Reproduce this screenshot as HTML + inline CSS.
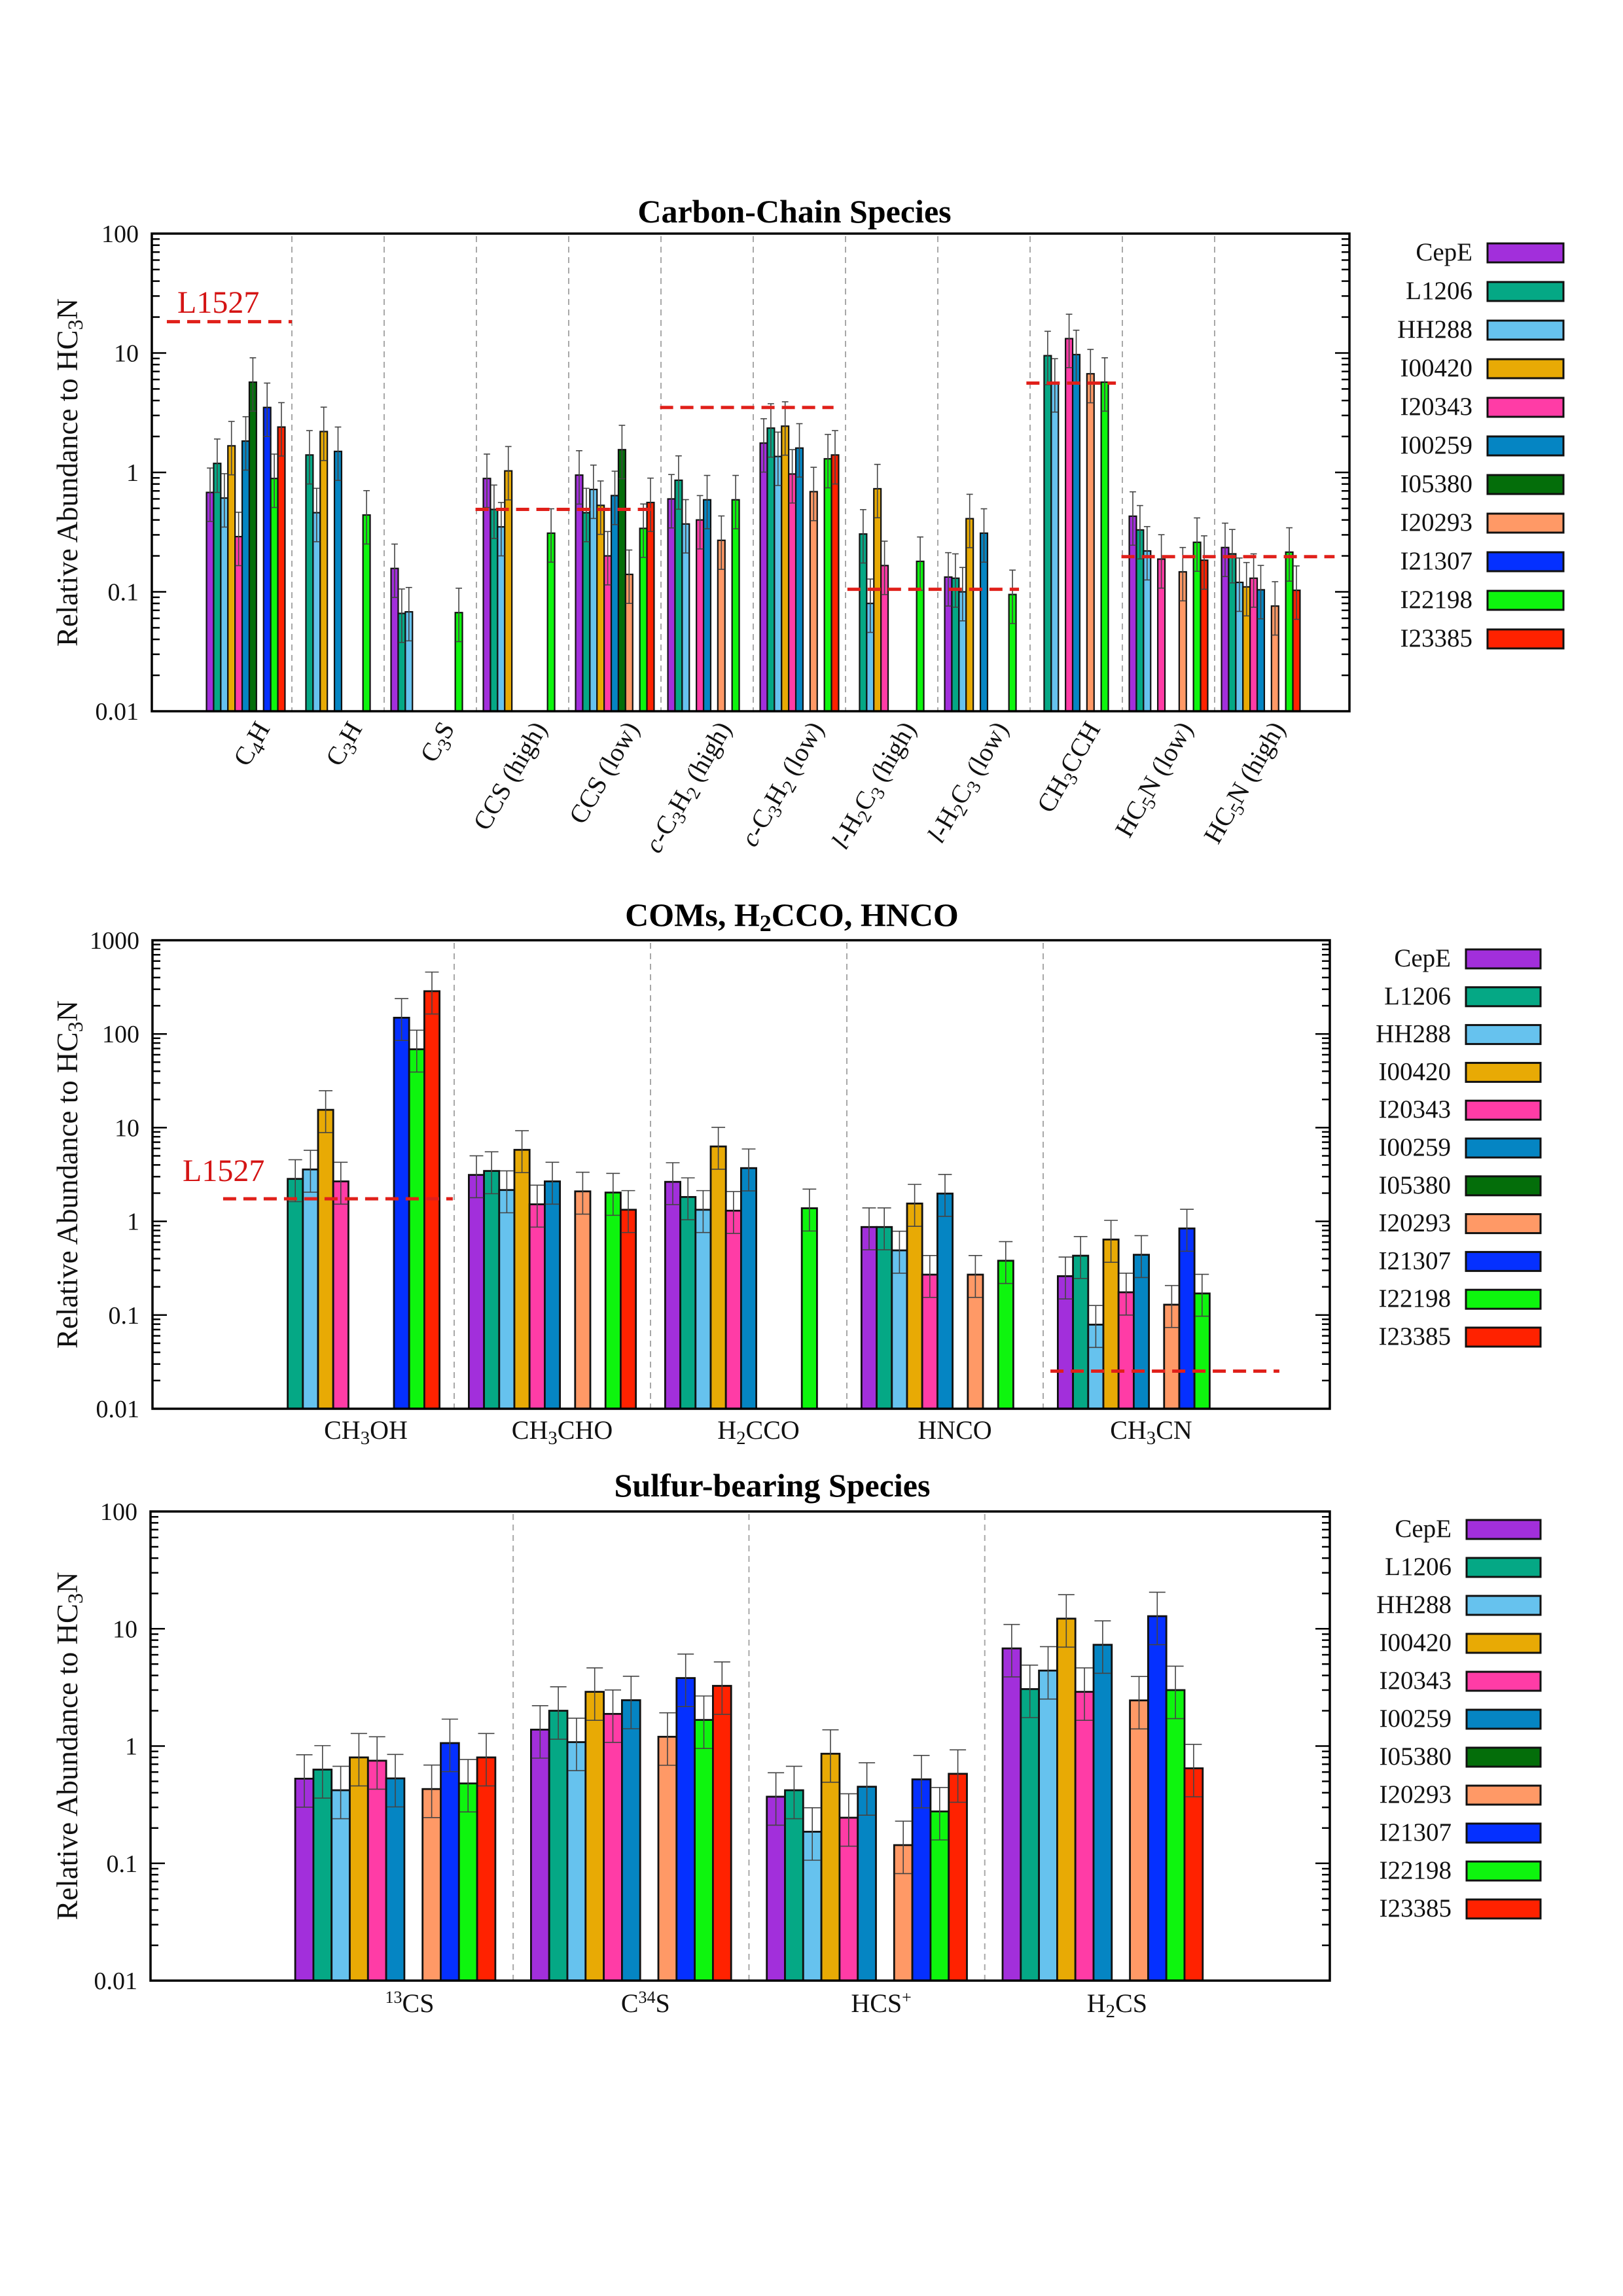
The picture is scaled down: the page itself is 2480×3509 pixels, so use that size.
<!DOCTYPE html>
<html><head><meta charset="utf-8"><title>Relative abundances</title>
<style>
html,body{margin:0;padding:0;background:#fff;}
svg{display:block;font-family:"Liberation Serif","DejaVu Serif",serif;}
</style></head>
<body>
<svg id="fig" width="2480" height="3509" viewBox="0 0 2480 3509" xmlns="http://www.w3.org/2000/svg">
<rect width="2480" height="3509" fill="#fff"/>
</svg>
<script>
// ---------- shared data ----------
const sources = ["CepE","L1206","HH288","I00420","I20343","I00259","I05380","I20293","I21307","I22198","I23385"];
const colors = ["#a22fdb","#05a885","#66c2ee","#e8aa05","#ff3ca6","#0585c3","#046e0a","#ff9966","#0530ff","#0ef50e","#ff2200"];

// ---------- chart 1: carbon-chain ----------
const ccCategories = ["C_{4}H","C_{3}H","C_{3}S","CCS (high)","CCS (low)","*{c}-C_{3}H_{2} (high)","*{c}-C_{3}H_{2} (low)","*{l}-H_{2}C_{3} (high)","*{l}-H_{2}C_{3} (low)","CH_{3}CCH","HC_{5}N (low)","HC_{5}N (high)"];
const ccC4H   = [0.68,1.19,0.61,1.67,0.29,1.83,5.7,null,3.5,0.89,2.4];
const ccC3H   = [null,1.4,0.46,2.2,null,1.5,null,null,null,0.44,null];
const ccC3S   = [0.157,0.066,0.068,null,null,null,null,null,null,0.067,null];
const ccCCSh  = [0.89,0.49,0.35,1.03,null,null,null,null,null,0.31,null];
const ccCCSl  = [0.95,0.46,0.72,0.53,0.2,0.64,1.55,0.14,null,0.34,0.56];
const ccCC3H2h= [0.6,0.86,0.37,null,0.40,0.59,null,0.27,null,0.59,null];
const ccCC3H2l= [1.76,2.35,1.36,2.44,0.97,1.6,null,0.69,null,1.3,1.4];
const ccLH2C3h= [null,0.305,0.08,0.73,0.166,null,null,null,null,0.18,null];
const ccLH2C3l= [0.133,0.13,0.10,0.41,null,0.31,null,null,null,0.095,null];
const ccCH3CCH= [null,9.5,5.6,null,13.2,9.7,null,6.7,null,5.7,null];
const ccHC5Nl = [0.43,0.33,0.22,null,0.188,null,null,0.147,null,0.26,0.184];
const ccHC5Nh = [0.235,0.208,0.12,0.11,0.13,0.104,null,0.076,null,0.215,0.103];
const ccRefValues = [18.3,0.49,3.5,0.105,5.6,0.197];
const ccRefFrom   = [-0.855,2.49,4.49,6.52,8.46,9.49];
const ccRefTo     = [0.5,4.39,6.37,8.38,9.43,11.8];
const ccTickLabels = ["0.01","0.1","1","10","100"];

// ---------- chart 2: COMs ----------
const comCategories = ["CH_{3}OH","CH_{3}CHO","H_{2}CCO","HNCO","CH_{3}CN"];
const comCH3OH  = [null,2.84,3.58,15.5,2.67,null,null,null,149,68.6,286];
const comCH3CHO = [3.13,3.45,2.16,5.8,1.52,2.67,null,2.09,null,2.03,1.33];
const comH2CCO  = [2.64,1.82,1.33,6.3,1.3,3.7,null,null,null,1.38,null];
const comHNCO   = [0.87,0.87,0.49,1.55,0.27,1.98,null,0.27,null,0.38,null];
const comCH3CN  = [0.26,0.43,0.079,0.64,0.175,0.44,null,0.129,0.84,0.17,null];
const comRefValues = [1.74,0.0252];
const comRefFrom   = [-0.677,3.537];
const comRefTo     = [0.493,4.703];
const comTickLabels = ["0.01","0.1","1","10","100","1000"];

// ---------- chart 3: sulfur ----------
const sCategories = ["^{13}CS","C^{34}S","HCS^{+}","H_{2}CS"];
const s13CS  = [0.527,0.63,0.42,0.80,0.75,0.53,null,0.43,1.06,0.48,0.80];
const sC34S  = [1.38,2.0,1.08,2.9,1.88,2.46,null,1.2,3.8,1.67,3.26];
const sHCSp  = [0.37,0.42,0.186,0.86,0.245,0.45,null,0.143,0.52,0.277,0.58];
const sH2CS  = [6.8,3.06,4.4,12.2,2.9,7.3,null,2.45,12.8,3.0,0.646];
const sTickLabels = ["0.01","0.1","1","10","100"];

const NS = "http://www.w3.org/2000/svg";
const fig = document.getElementById('fig');
function mk(tag, attrs, parent){
  const e = document.createElementNS(NS, tag);
  for (const k in attrs) e.setAttribute(k, attrs[k]);
  (parent||fig).appendChild(e);
  return e;
}
function richLabel(s){
  return s.replace(/\*\{([^}]*)\}/g,'<tspan font-style="italic">$1</tspan>')
          .replace(/_\{([^}]*)\}/g,'<tspan font-size="72%" dy="8">$1</tspan><tspan dy="-8">\u200b</tspan>')
          .replace(/\^\{([^}]*)\}/g,'<tspan font-size="65%" dy="-14">$1</tspan><tspan dy="14">\u200b</tspan>');
}

function drawChart(cfg){
  const g = mk('g',{});
  
  
  const L=cfg.left,R=cfg.right,T=cfg.top,B=cfg.bottom;
  const lmin=cfg.logMin,lmax=cfg.logMax;
  const y = v => B - (Math.log10(v)-lmin)/(lmax-lmin)*(B-T);
  const x = i => cfg.c0 + cfg.step*i;
  for (let i=0;i<cfg.categories.length-1;i++){
    const sx = x(i+0.5);
    const sep = mk('line',{x1:sx,x2:sx,y1:T+4,y2:B,stroke:'#a8a8a8','stroke-width':2,'stroke-dasharray':'9,7'},g);
    
    
  }
  cfg.series.forEach((vals,ci)=>{
    vals.forEach((v,j)=>{
      if (v===null) return;
      const bx = x(ci) + (j-5.5)*cfg.bw;
      const by = y(v);
      const r = mk('rect',{x:bx,y:by,width:cfg.bw,height:B-by,fill:colors[j],stroke:'#111','stroke-width':cfg.bstroke},g);
      
      
    });
  });
  cfg.series.forEach((vals,ci)=>{
    vals.forEach((v,j)=>{
      if (v===null) return;
      const cx = x(ci) + (j-5)*cfg.bw;
      const hi = y(v*1.6), lo = Math.min(B, y(v/1.75));
      const cw = cfg.bw*0.45;
      const eg = mk('g',{stroke:'#444','stroke-width':1.6},g);
      
      
      mk('line',{x1:cx,x2:cx,y1:hi,y2:lo},eg);
      mk('line',{x1:cx-cw,x2:cx+cw,y1:hi,y2:hi},eg);
      mk('line',{x1:cx-cw,x2:cx+cw,y1:lo,y2:lo},eg);
    });
  });
  cfg.refVals.forEach((v,k)=>{
    const ln = mk('line',{x1:x(cfg.refFrom[k]),x2:x(cfg.refTo[k]),y1:y(v),y2:y(v),stroke:'#e0201a','stroke-width':5,'stroke-dasharray':'20,11'},g);
    
    
  });
  if (cfg.refLabel){
    const t = mk('text',{x:cfg.refLabel[0],y:cfg.refLabel[1],'font-size':48,fill:'#d41414'},g);
    t.textContent='L1527';
    
    
  }
  const fr = mk('rect',{x:L,y:T,width:R-L,height:B-T,fill:'none',stroke:'#000','stroke-width':3.5},g);
  
  
  const tg = mk('g',{stroke:'#000','stroke-width':2.5},g);
  
  
  for (let d=lmin; d<=lmax; d++){
    const yy = y(Math.pow(10,d));
    mk('line',{x1:L,x2:L+22,y1:yy,y2:yy},tg);
    mk('line',{x1:R,x2:R-22,y1:yy,y2:yy},tg);
    if (d<lmax){
      for (let m=2;m<=9;m++){
        const ym = y(m*Math.pow(10,d));
        mk('line',{x1:L,x2:L+12,y1:ym,y2:ym},tg);
        mk('line',{x1:R,x2:R-12,y1:ym,y2:ym},tg);
      }
    }
  }
  cfg.tickLabels.forEach((lab,k)=>{
    const t = mk('text',{x:L-20,y:y(Math.pow(10,lmin+k))+13,'font-size':38,'text-anchor':'end',fill:'#111'},g);
    t.textContent = lab;
    
    
  });
  const yt = mk('text',{x:0,y:0,'font-size':45,'text-anchor':'middle',fill:'#111',transform:`translate(${cfg.ytx},${(T+B)/2}) rotate(-90)`},g);
  yt.innerHTML = richLabel('Relative Abundance to HC_{3}N');
  
  
  const tt = mk('text',{x:cfg.titleX,y:cfg.titleY,'font-size':50,'font-weight':'bold','text-anchor':'middle',fill:'#000'},g);
  tt.innerHTML = richLabel(cfg.title);
  
  
  cfg.categories.forEach((c,i)=>{
    let t;
    if (cfg.rotate){
      t = mk('text',{x:0,y:0,'font-size':40,'text-anchor':'end',fill:'#111',transform:`translate(${x(i)+38},${B+26}) rotate(-60)`},g);
    } else {
      t = mk('text',{x:x(i)+cfg.labelDx,y:cfg.labelY,'font-size':40,'text-anchor':'middle',fill:'#111'},g);
    }
    t.innerHTML = richLabel(c);
    
    
  });
  const lg = mk('g',{},g);
  
  
  sources.forEach((s,j)=>{
    const ry = cfg.legTop + j*cfg.legStep;
    const e = mk('g',{},lg);
    
    
    const tx = mk('text',{x:cfg.legTextR,y:ry+26,'font-size':39,'text-anchor':'end',fill:'#111'},e);
    tx.textContent = s;
    mk('rect',{x:cfg.legX,y:ry,width:cfg.legW,height:29,fill:colors[j],stroke:'#111','stroke-width':3},e);
  });
}

drawChart({name:'carbon-chain-chart',left:232,right:2062,top:357,bottom:1087,logMin:-2,logMax:2,
  c0:375.5,step:141,bw:10.9,bstroke:2.2,categories:ccCategories,
  series:[ccC4H,ccC3H,ccC3S,ccCCSh,ccCCSl,ccCC3H2h,ccCC3H2l,ccLH2C3h,ccLH2C3l,ccCH3CCH,ccHC5Nl,ccHC5Nh],
  refVals:ccRefValues,refFrom:ccRefFrom,refTo:ccRefTo,refLabel:[271,478],tickLabels:ccTickLabels,
  ytx:118,title:'Carbon-Chain Species',titleX:1214,titleY:340,rotate:true,
  legTop:372,legStep:59,legX:2273,legW:116,legTextR:2250});

drawChart({name:'coms-chart',left:233,right:2032,top:1437,bottom:2153,logMin:-2,logMax:3,
  c0:544,step:300,bw:23.2,bstroke:2.8,categories:comCategories,
  series:[comCH3OH,comCH3CHO,comH2CCO,comHNCO,comCH3CN],
  refVals:comRefValues,refFrom:comRefFrom,refTo:comRefTo,refLabel:[279,1805],tickLabels:comTickLabels,
  ytx:118,title:'COMs, H_{2}CCO, HNCO',titleX:1210,titleY:1415,rotate:false,labelDx:15,labelY:2199,
  legTop:1451,legStep:57.8,legX:2240,legW:114,legTextR:2217});

drawChart({name:'sulfur-chart',left:230,right:2032,top:2310,bottom:3027,logMin:-2,logMax:2,
  c0:604,step:360.3,bw:27.8,bstroke:2.8,categories:sCategories,
  series:[s13CS,sC34S,sHCSp,sH2CS],
  refVals:[],refFrom:[],refTo:[],refLabel:null,tickLabels:sTickLabels,
  ytx:118,title:'Sulfur-bearing Species',titleX:1180,titleY:2287,rotate:false,labelDx:22,labelY:3075,
  legTop:2323,legStep:58,legX:2241,legW:113,legTextR:2218});
</script>
</body></html>
